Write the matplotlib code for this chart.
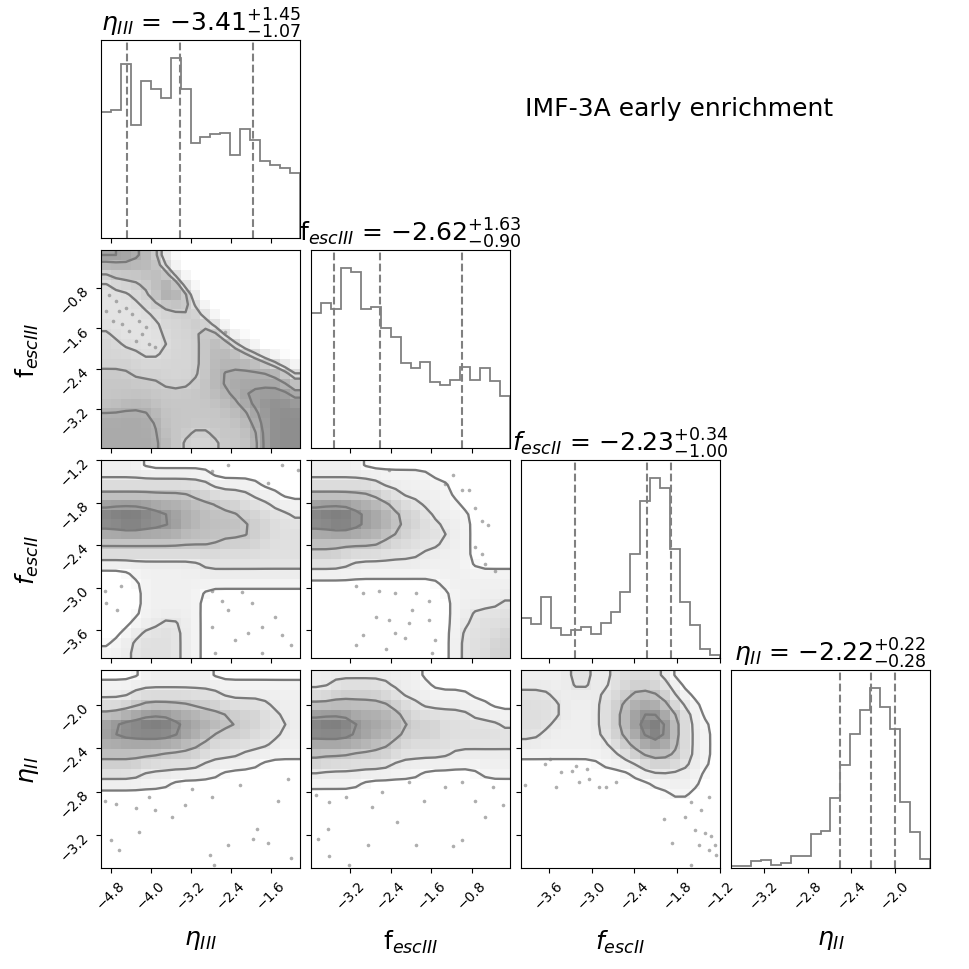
import numpy as np
import matplotlib
matplotlib.use("Agg")
import matplotlib.pyplot as plt
from matplotlib.colors import LinearSegmentedColormap

# parameters, axis ranges, ticks, quantiles
labels = [r"$\eta_{III}$", r"f$_{escIII}$", r"$f_{escII}$", r"$\eta_{II}$"]
ranges = [(-5.0, -1.02), (-3.98, -0.04), (-3.99, -1.2), (-3.5, -1.68)]
ticks = [[-4.8, -4.0, -3.2, -2.4, -1.6],
         [-3.2, -2.4, -1.6, -0.8],
         [-3.6, -3.0, -2.4, -1.8, -1.2],
         [-3.2, -2.8, -2.4, -2.0]]
q_med = [-3.41, -2.62, -2.23, -2.22]
q_lo = [1.07, 0.90, 1.00, 0.28]
q_hi = [1.45, 1.63, 0.34, 0.22]

# 1D marginal histograms (20 bins over each range)
hist_eta3 = [380, 385, 526, 340, 473, 450, 421, 543, 448, 288,
             305, 315, 318, 251, 328, 296, 233, 221, 211, 196]
hist_fesc3 = [407, 438, 420, 543, 530, 418, 426, 362, 336, 256,
              240, 258, 198, 190, 204, 243, 205, 240, 201, 156]
hist_fesc2 = [121, 102, 183, 91, 68, 84, 93, 72, 106, 138,
              198, 315, 475, 543, 513, 328, 168, 100, 26, 10]
hist_eta2 = [6, 6, 20, 23, 10, 16, 36, 36, 103, 113,
             210, 310, 403, 478, 543, 486, 420, 200, 108, 28]

# 2D densities, 20x20, rows from top (high y) to bottom, levels 0-9
dens_10 = ["77765410000000000000",
           "55555520000000000000",
           "34444552000000000000",
           "23334465100000000000",
           "22233486510000000000",
           "22223334520000000000",
           "22222333342000000000",
           "22222233344200000000",
           "32222233334520000000",
           "33222223334553100000",
           "33332233334555431000",
           "33333333334555554310",
           "44433333334566666652",
           "44444433344566666664",
           "44444444444556777776",
           "44555444444455678887",
           "66666544444445567888",
           "66666644444444567888",
           "66666644433444457888",
           "66666654333344457888"]
dens_20 = ["11110000000000000000",
           "11111111111000000000",
           "22222222222111110000",
           "44444444433222211100",
           "66666555544433222111",
           "89998876554444332221",
           "88998877554444433222",
           "55555555444444433222",
           "44444444444433332222",
           "22222222222222222222",
           "11111111112222222222",
           "00011111111111111111",
           "00001111111111111111",
           "00001111110000000000",
           "00001111110000000000",
           "00001111110000000000",
           "00011122110000000000",
           "00112222110000000000",
           "01122222110000000000",
           "11122222110000000000"]
dens_21 = ["11111000000000000000",
           "11111111111100000000",
           "22222221111111000000",
           "44444432211111000000",
           "66665554322111100000",
           "89998665433211110000",
           "88998665433221110000",
           "55555554432222110000",
           "44444443222221110000",
           "33322222222111110000",
           "22221111111111110000",
           "11111111111111111111",
           "00000000000001111111",
           "00000000000000111111",
           "00000000000000111112",
           "00000000000000112222",
           "00000000000000112222",
           "00000000000000122223",
           "00000000000000122233",
           "00000000000000122233"]
dens_30 = ["00001111111000000000",
           "11111111111111111111",
           "11122222222211111111",
           "22234444433322222111",
           "44556665554443332211",
           "67889998665544332221",
           "67888887655333322211",
           "55555555443222222111",
           "44444433332222111111",
           "33332222221111110000",
           "22221111111100000000",
           "11111110000000000000",
           "00000000000000000000",
           "00000000000000000000",
           "00000000000000000000",
           "00000000000000000000",
           "00000000000000000000",
           "00000000000000000000",
           "00000000000000000000",
           "00000000000000000000"]
dens_31 = ["11111111111000000000",
           "11222222111100000000",
           "22333332211111110000",
           "44444444322111111100",
           "66665555432222221111",
           "89997665543332222221",
           "88886655433332222222",
           "55555544322222222222",
           "44443333222222111111",
           "32222222111111111111",
           "11111111111000000111",
           "11111000000000000000",
           "00000000000000000000",
           "00000000000000000000",
           "00000000000000000000",
           "00000000000000000000",
           "00000000000000000000",
           "00000000000000000000",
           "00000000000000000000",
           "00000000000000000000"]
dens_32 = ["11111221122222100000",
           "11111221122332210000",
           "22211111223444311000",
           "22221111234555421100",
           "22221111234677542100",
           "22211111234689742110",
           "22111111234579742110",
           "11111111123456542110",
           "11111111112344442110",
           "00000000111123322110",
           "00000000000111111100",
           "00000000000001111100",
           "00000000000000011000",
           "00000000000000000000",
           "00000000000000000000",
           "00000000000000000000",
           "00000000000000000000",
           "00000000000000000000",
           "00000000000000000000",
           "00000000000000000000"]
levels_10 = [2.5, 3.5, 5.5, 6.5]
levels_std = [0.5, 1.5, 3.5, 6.5]

# samples drawn outside the lowest contour (x, y)
pts_10_x = [-4.83, -4.70, -4.50, -4.77, -4.57, -4.37, -4.24, -4.44, -4.17, -4.04,
            -3.91, -4.30, -4.64, -4.90, -4.10, -2.51]
pts_10_y = [-0.93, -1.06, -1.19, -1.45, -1.52, -1.32, -1.45, -1.65, -1.71, -1.91,
            -1.98, -1.85, -1.25, -1.25, -1.58, -1.68]
pts_20_x = [-4.93, -4.60, -4.67, -4.90, -2.78, -2.58, -2.18, -1.98, -1.52, -1.78,
            -2.31, -1.38, -1.19, -2.71, -2.45, -2.05, -2.78, -1.78, -1.65, -1.38,
            -1.05, -2.45, -2.78]
pts_20_y = [-3.04, -2.97, -3.32, -3.22, -3.04, -3.18, -3.06, -3.22, -3.41, -3.55,
            -3.73, -3.66, -3.80, -3.92, -3.32, -3.64, -3.55, -3.92, -1.53, -1.27,
            -1.34, -1.27, -1.36]
pts_21_x = [-2.44, -1.16, -1.32, -0.99, -0.86, -0.73, -0.60, -0.47, -0.73, -0.60,
            -0.53, -3.09, -2.96, -2.63, -2.31, -1.91, -1.65, -1.98, -2.44, -2.70,
            -2.31, -2.11, -1.65, -1.52, -2.96, -3.09, -2.50, -1.58, -2.04, -0.34]
pts_21_y = [-1.34, -1.41, -1.54, -1.62, -1.62, -1.87, -2.06, -2.11, -2.43, -2.53,
            -2.66, -2.97, -3.08, -3.04, -3.08, -3.08, -3.18, -3.32, -3.46, -3.41,
            -3.64, -3.71, -3.46, -3.73, -3.66, -3.80, -3.87, -3.92, -3.50, -2.76]
pts_30_x = [-4.93, -4.70, -4.30, -3.91, -3.57, -3.18, -2.78, -2.21, -1.45, -1.25,
            -1.88, -1.65, -1.95, -4.80, -4.64, -4.24, -2.45, -2.74, -2.81, -1.19,
            -3.31, -4.04]
pts_30_y = [-2.88, -2.91, -2.95, -2.97, -3.03, -2.77, -2.85, -2.74, -2.88, -2.68,
            -3.14, -3.27, -3.23, -3.24, -3.33, -3.17, -3.29, -3.47, -3.38, -3.41,
            -2.92, -2.85]
pts_31_x = [-3.88, -3.62, -3.29, -2.77, -2.57, -2.04, -1.75, -1.32, -0.99, -0.73,
            -0.17, -0.53, -3.85, -3.62, -3.22, -2.86, -1.91, -1.16, -0.99, -2.27,
            -3.65, -0.37]
pts_31_y = [-2.83, -2.89, -2.85, -2.94, -2.80, -2.71, -2.88, -2.76, -2.71, -2.88,
            -2.92, -3.03, -3.23, -3.39, -3.47, -3.29, -3.29, -3.30, -3.24, -3.08,
            -3.14, -2.76]
pts_32_x = [-3.59, -3.43, -3.22, -3.06, -3.18, -2.90, -2.80, -3.50, -3.94, -2.66,
            -1.60, -1.46, -1.69, -1.55, -1.41, -1.32, -1.50, -1.36, -1.27, -1.60,
            -1.87, -1.99, -1.36, -1.25, -3.04, -3.66, -3.27]
pts_32_y = [-2.50, -2.62, -2.56, -2.59, -2.71, -2.76, -2.76, -2.76, -2.74, -2.71,
            -2.89, -2.97, -3.03, -3.15, -3.18, -3.21, -3.29, -3.33, -3.29, -3.47,
            -3.27, -3.05, -2.85, -3.38, -2.68, -2.54, -2.61]

hists = [hist_eta3, hist_fesc3, hist_fesc2, hist_eta2]
# panel -> (density, contour levels, points x, points y, density giving darkest grey)
panels = {(1, 0): (dens_10, levels_10, pts_10_x, pts_10_y, 9.0),
          (2, 0): (dens_20, levels_std, pts_20_x, pts_20_y, None),
          (2, 1): (dens_21, levels_std, pts_21_x, pts_21_y, None),
          (3, 0): (dens_30, levels_std, pts_30_x, pts_30_y, None),
          (3, 1): (dens_31, levels_std, pts_31_x, pts_31_y, None),
          (3, 2): (dens_32, levels_std, pts_32_x, pts_32_y, None)}

cmap = LinearSegmentedColormap.from_list("dens", ["white", "#808080"])
line_c = "#7a7a7a"


def smooth(z, s=0.75):
    # small gaussian filter, edges extended
    k = np.exp(-0.5 * (np.arange(-3, 4) / s) ** 2)
    k /= k.sum()
    zp = np.pad(z, 3, mode="edge")
    zp = np.apply_along_axis(lambda v: np.convolve(v, k, mode="valid"), 0, zp)
    zp = np.apply_along_axis(lambda v: np.convolve(v, k, mode="valid"), 1, zp)
    return zp


fig = plt.figure(figsize=(9.7, 9.7), dpi=100)
n = 4
for i in range(n):
    for j in range(n):
        if j > i:
            continue
        left = (101 + 210 * j) / 970
        bottom = 1 - (41 + 210 * i + 198) / 970
        ax = fig.add_axes([left, bottom, 199 / 970, 198 / 970])
        xe = np.linspace(ranges[j][0], ranges[j][1], 21)
        if i == j:
            h = np.array(hists[i], dtype=float)
            ax.stairs(h, xe, color="grey", lw=1.3)
            med = q_med[i]
            for q in (med - q_lo[i], med, med + q_hi[i]):
                ax.axvline(q, color="grey", ls="--", lw=1.5)
            ax.set_ylim(0, 1.1 * h.max())
            ax.set_yticks([])
            ax.set_title(labels[i] + " = " +
                         r"$%.2f_{-%.2f}^{+%.2f}$" % (med, q_lo[i], q_hi[i]),
                         fontsize=18)
        else:
            rows, lv, px, py, top = panels[(i, j)]
            z = np.array([[int(c) for c in r] for r in rows], dtype=float)[::-1]
            z = smooth(z)
            ye = np.linspace(ranges[i][0], ranges[i][1], 21)
            ax.pcolormesh(xe, ye, np.ma.masked_less(z, 0.35), cmap=cmap,
                          vmin=0, vmax=top or z.max(), shading="flat")
            ax.plot(px, py, "o", ms=2.6, color="#8c8c8c", alpha=0.7, mec="none")
            dx = xe[1] - xe[0]
            dy = ye[1] - ye[0]
            xc = np.concatenate([[xe[0] - dx / 2], 0.5 * (xe[1:] + xe[:-1]), [xe[-1] + dx / 2]])
            yc = np.concatenate([[ye[0] - dy / 2], 0.5 * (ye[1:] + ye[:-1]), [ye[-1] + dy / 2]])
            zp = np.pad(z, 1, mode="edge")
            ax.contour(xc, yc, zp, levels=lv, colors=line_c, linewidths=1.7)
            ax.set_ylim(ranges[i])
            ax.set_yticks(ticks[i])
            if j == 0:
                for t in ax.get_yticklabels():
                    t.set_rotation(45)
                ax.set_ylabel(labels[i], fontsize=18)
                ax.yaxis.set_label_coords(-0.3, 0.5)
            else:
                ax.set_yticklabels([])
        ax.set_xlim(ranges[j])
        ax.set_xticks(ticks[j])
        if i == n - 1:
            for t in ax.get_xticklabels():
                t.set_rotation(45)
            ax.set_xlabel(labels[j], fontsize=18)
            ax.xaxis.set_label_coords(0.5, -0.3)
        else:
            ax.set_xticklabels([])

fig.text(0.7, 0.888, "IMF-3A early enrichment", fontsize=18, ha="center", va="center")

plt.savefig("out.png", dpi=100)
